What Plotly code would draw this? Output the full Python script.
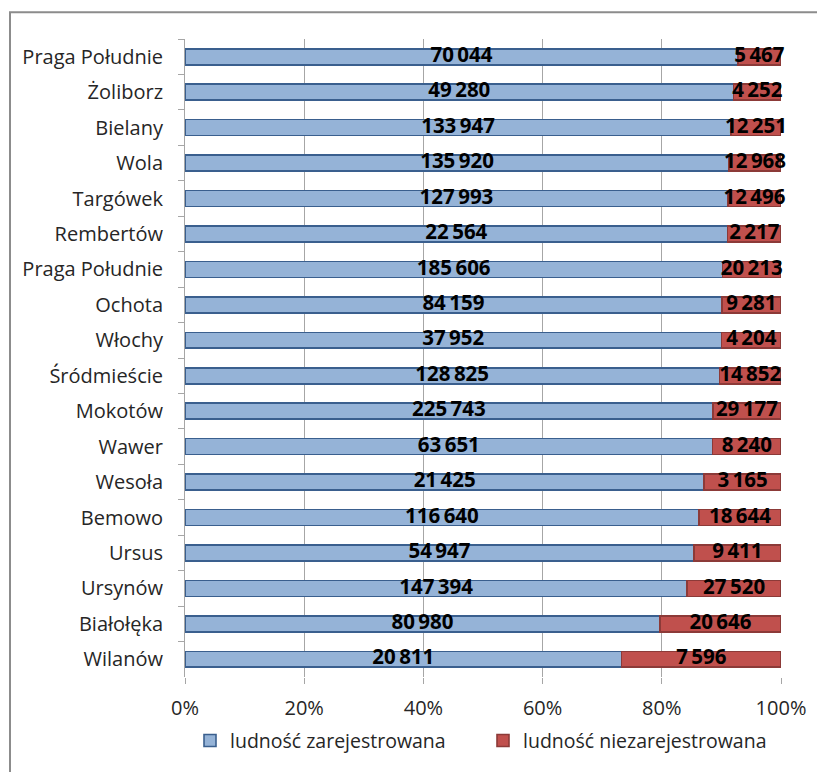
import plotly.graph_objects as go

# Districts listed top to bottom
districts = ["Praga Południe", "Żoliborz", "Bielany", "Wola", "Targówek", "Rembertów",
             "Praga Południe\u200b", "Ochota", "Włochy", "Śródmieście", "Mokotów", "Wawer",
             "Wesoła", "Bemowo", "Ursus", "Ursynów", "Białołęka", "Wilanów"]
registered = [70044, 49280, 133947, 135920, 127993, 22564, 185606, 84159, 37952,
              128825, 225743, 63651, 21425, 116640, 54947, 147394, 80980, 20811]
unregistered = [5467, 4252, 12251, 12968, 12496, 2217, 20213, 9281, 4204,
                14852, 29177, 8240, 3165, 18644, 9411, 27520, 20646, 7596]
x_ticks = [0, 20, 40, 60, 80, 100]
x_tick_labels = ["0%", "20%", "40%", "60%", "80%", "100%"]
series_names = ["ludność zarejestrowana", "ludność niezarejestrowana"]


def fmt(v):
    return f"{v:,}".replace(",", "\u2009")


# shares (in %) used to centre the value labels inside each segment
totals = [a + b for a, b in zip(registered, unregistered)]
reg_pct = [100 * a / t for a, t in zip(registered, totals)]
reg_mid = [p / 2 for p in reg_pct]
unreg_mid = [p + (100 - p) / 2 for p in reg_pct]

FONT = "Open Sans, Lato, sans-serif"
TXT = "#262626"
LBL = dict(family=FONT, size=20.5, color="black", weight="bold")

fig = go.Figure()
fig.add_trace(go.Bar(
    y=districts, x=registered, orientation="h", name=series_names[0],
    marker=dict(color="#95B3D7", line=dict(color="#3A5F8E", width=1.6)),
    hoverinfo="skip",
))
fig.add_trace(go.Bar(
    y=districts, x=unregistered, orientation="h", name=series_names[1],
    marker=dict(color="#C0504D", line=dict(color="#8C3A38", width=1.6)),
    hoverinfo="skip",
))
fig.add_trace(go.Scatter(
    y=districts, x=reg_mid, mode="text", text=[fmt(v) for v in registered],
    textposition="middle center", textfont=LBL, showlegend=False,
    hoverinfo="skip", cliponaxis=False,
))
fig.add_trace(go.Scatter(
    y=districts, x=unreg_mid, mode="text", text=[fmt(v) for v in unregistered],
    textposition="middle center", textfont=LBL, showlegend=False,
    hoverinfo="skip", cliponaxis=False,
))

L, R, T, B = 185, 36, 39, 91
W = 817 - L - R
H = 772 - T - B
n = len(districts)

fig.update_layout(
    width=817, height=772,
    margin=dict(l=L, r=R, t=T, b=B),
    barmode="stack", barnorm="percent", bargap=0.55,
    plot_bgcolor="white", paper_bgcolor="white",
    font=dict(family=FONT, size=20, color=TXT),
    showlegend=True,
    legend=dict(orientation="h", x=0.5, xanchor="center", y=-0.1, yanchor="middle",
                font=dict(size=19.5, color=TXT), traceorder="normal",
                entrywidth=248, entrywidthmode="pixels"),
    xaxis=dict(range=[0, 100], tickvals=x_ticks, ticktext=x_tick_labels,
               showgrid=True, gridcolor="#A6A6A6", gridwidth=1,
               zeroline=False, showline=False,
               ticks="outside", ticklen=6, tickcolor="#A6A6A6",
               ticklabelstandoff=7,
               tickfont=dict(size=20, color=TXT), fixedrange=True),
    yaxis=dict(range=[n - 0.5, -0.5], autorange=False, type="category",
               showline=True, linecolor="#A6A6A6", linewidth=1,
               ticks="outside", ticklen=6, tickcolor="#A6A6A6",
               tickson="boundaries", showgrid=False, ticklabelstandoff=17,
               tickfont=dict(size=20, color=TXT)),
    shapes=[dict(type="rect", xref="paper", yref="paper",
                 x0=(10 - L) / W, x1=(840 - L) / W,
                 y0=(T + H - 800) / H, y1=1 + (T - 12) / H,
                 line=dict(color="#8C8C8C", width=2), fillcolor="rgba(0,0,0,0)",
                 layer="below")],
)

fig.write_html("out.html")
